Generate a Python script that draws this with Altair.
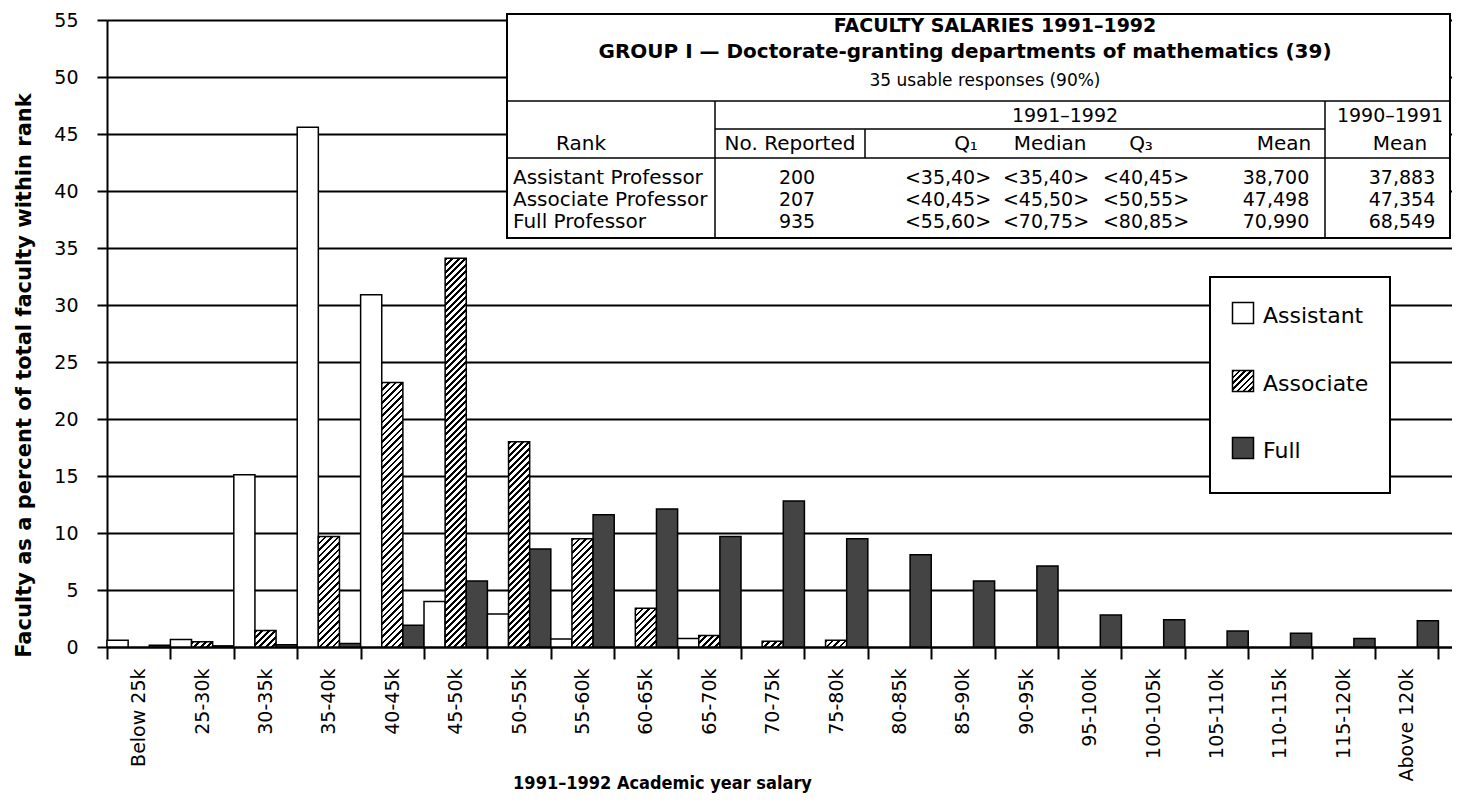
import altair as alt
import pandas as pd

# ---------------- data ----------------
categories = ["Below 25k", "25-30k", "30-35k", "35-40k", "40-45k", "45-50k", "50-55k",
              "55-60k", "60-65k", "65-70k", "70-75k", "75-80k", "80-85k", "85-90k",
              "90-95k", "95-100k", "100-105k", "105-110k", "110-115k", "115-120k", "Above 120k"]
assistant = [0.6, 0.65, 15.1, 45.6, 30.9, 4.0, 2.9, 0.7, 0.0, 0.75, 0.0,
             0.0, 0.0, 0.0, 0.0, 0.0, 0.0, 0.0, 0.0, 0.0, 0.0]
associate = [0.0, 0.45, 1.45, 9.7, 23.2, 34.1, 18.0, 9.5, 3.4, 1.0, 0.5,
             0.6, 0.0, 0.0, 0.0, 0.0, 0.0, 0.0, 0.0, 0.0, 0.0]
full = [0.15, 0.1, 0.2, 0.3, 1.9, 5.8, 8.6, 11.6, 12.1, 9.7, 12.8,
        9.5, 8.1, 5.8, 7.1, 2.8, 2.4, 1.4, 1.2, 0.75, 2.3]
ranks = ["Assistant", "Associate", "Full"]

table_title = "FACULTY SALARIES 1991–1992"
table_group = "GROUP I — Doctorate-granting departments of mathematics (39)"
table_resp = "35 usable responses (90%)"
table_year = "1991–1992"
table_prev_year = "1990–1991"
table_headers = ["Rank", "No. Reported", "Q₁", "Median", "Q₃", "Mean", "Mean"]
row_labels = ["Assistant Professor", "Associate Professor", "Full Professor"]
no_reported = ["200", "207", "935"]
q1_vals = ["<35,40>", "<40,45>", "<55,60>"]
median_vals = ["<35,40>", "<45,50>", "<70,75>"]
q3_vals = ["<40,45>", "<50,55>", "<80,85>"]
mean_vals = ["38,700", "47,498", "70,990"]
prev_mean_vals = ["37,883", "47,354", "68,549"]

# ---------------- layout / style ----------------
FONT = "DejaVu Sans"
NARROW = "DejaVu Sans Condensed, Liberation Sans Narrow, Liberation Sans"
W, H = 1345, 627
OX, OY = 107, 20          # page position of plot origin
FULL_COLOR = "#444444"

rows = []
for i, c in enumerate(categories):
    for r, vals in zip(ranks, [assistant, associate, full]):
        rows.append({"salary": c, "rank": r, "value": vals[i]})
df = pd.DataFrame(rows)


def hatch_stops(n, frac=0.42):
    parts = []
    for k in range(n):
        a = round(k / n, 5)
        b = round((k + frac) / n, 5)
        c = round((k + 1) / n, 5)
        parts += [f"{{offset:{a},color:'#000'}}", f"{{offset:{b},color:'#000'}}",
                  f"{{offset:{b},color:'#fff'}}", f"{{offset:{c},color:'#fff'}}"]
    return "[" + ",".join(parts) + "]"


L = 455
wexp = "bandwidth('xOffset')"
hexp = "abs(scale('y', 0) - scale('y', datum.value))"
dexp = f"({wexp}*{wexp}+{hexp}*{hexp})"
bar_fill = (f"datum.rank === 'Associate' ? {{gradient:'linear', x1:0, y1:0, "
            f"x2:{L}*{wexp}/{dexp}, y2:{L}*{hexp}/{dexp}, stops:{hatch_stops(70)}}} : "
            f"(datum.rank === 'Full' ? '{FULL_COLOR}' : '#ffffff')")

bars = alt.Chart(df).transform_filter("datum.value > 0").mark_bar(
    fill=alt.ExprRef(expr=bar_fill), stroke="black", strokeWidth=1.5
).encode(
    x=alt.X("salary:N", sort=categories,
            scale=alt.Scale(domain=categories, paddingInner=0, paddingOuter=0.107, align=0),
            axis=alt.Axis(title="1991–1992 Academic year salary", labelAngle=270,
                          labelAlign="right", labelBaseline="middle", labelPadding=9,
                          labelFont=FONT, labelFontSize=19, labelColor="black",
                          tickBand="extent", tickSize=12, tickWidth=2, tickColor="black",
                          domainColor="black", domainWidth=2,
                          titleFont=NARROW, titleFontSize=18, titleFontWeight="bold",
                          titleColor="black", titleX=555, titleY=136,
                          titleBaseline="middle", titleAlign="center", zindex=0)),
    xOffset=alt.XOffset("rank:N", sort=ranks,
                        scale=alt.Scale(domain=ranks, paddingInner=0, paddingOuter=0)),
    y=alt.Y("value:Q", stack=None, scale=alt.Scale(domain=[0, 55], nice=False),
            axis=alt.Axis(title="Faculty as a percent of total faculty within rank",
                          values=list(range(0, 56, 5)), grid=True, gridColor="black",
                          gridWidth=2, gridOpacity=1, domainColor="black", domainWidth=2,
                          tickColor="black", tickSize=10, tickWidth=2, labelPadding=19,
                          labelFont=FONT, labelFontSize=19, labelColor="black",
                          titleFont=FONT, titleFontSize=21, titleFontWeight="bold",
                          titleColor="black", titleAngle=270, titleX=-83, titleY=355,
                          titleBaseline="middle", titleAlign="center", zindex=0)),
)

# ---------------- table ----------------
TL, TR, TT, TB = 507, 1450, 14, 238
box_df = pd.DataFrame([{"x": TL - OX, "x2": TR - OX, "y": TT - OY, "y2": TB - OY}])
table_box = alt.Chart(box_df).mark_rect(fill="white", stroke="black", strokeWidth=2).encode(
    x=alt.X("x:Q", scale=None), x2="x2:Q", y=alt.Y("y:Q", scale=None), y2="y2:Q")

segs = [(TL, TR, 101, 101), (715, 1325, 129, 129), (TL, TR, 158, 158),
        (715, 715, 101, TB), (865, 865, 129, 158), (1325, 1325, 101, TB)]
seg_df = pd.DataFrame([{"x": a - OX, "x2": b - OX, "y": c - OY, "y2": d - OY} for a, b, c, d in segs])
table_rules = alt.Chart(seg_df).mark_rule(color="black", strokeWidth=1.5).encode(
    x=alt.X("x:Q", scale=None), x2="x2:Q", y=alt.Y("y:Q", scale=None), y2="y2:Q")

bold_txt = pd.DataFrame([
    {"t": table_title, "px": 995 - OX, "py": 26 - OY, "s": 19},
    {"t": table_group, "px": 965 - OX, "py": 52 - OY, "s": 20},
])
center_txt_rows = [
    {"t": table_resp, "px": 985, "py": 81, "s": 17},
    {"t": table_year, "px": 1065, "py": 116, "s": 19},
    {"t": table_prev_year, "px": 1390, "py": 116, "s": 19},
]
head_x = [581, 790, 966, 1050, 1141, 1284, 1400]
for hx, ht in zip(head_x, table_headers):
    center_txt_rows.append({"t": ht, "px": hx, "py": 144, "s": 20})
row_y = [178, 200, 222]
col_x = [797, 948, 1046, 1146, 1276, 1402]
cols = [no_reported, q1_vals, median_vals, q3_vals, mean_vals, prev_mean_vals]
for j, ry in enumerate(row_y):
    for cx, col in zip(col_x, cols):
        center_txt_rows.append({"t": col[j], "px": cx, "py": ry, "s": 19})
center_txt = pd.DataFrame(center_txt_rows)
center_txt["px"] -= OX
center_txt["py"] -= OY
left_txt = pd.DataFrame([{"t": lab, "px": 513 - OX, "py": ry - OY, "s": 20}
                         for lab, ry in zip(row_labels, row_y)])


def text_layer(d, align, weight):
    return alt.Chart(d).mark_text(align=align, baseline="middle", font=FONT,
                                  fontWeight=weight, color="black").encode(
        x=alt.X("px:Q", scale=None), y=alt.Y("py:Q", scale=None),
        size=alt.Size("s:Q", scale=None, legend=None), text="t:N")


# ---------------- legend ----------------
leg_box_df = pd.DataFrame([{"x": 1210 - OX, "x2": 1390 - OX, "y": 277 - OY, "y2": 493 - OY}])
leg_box = alt.Chart(leg_box_df).mark_rect(fill="white", stroke="black", strokeWidth=2).encode(
    x=alt.X("x:Q", scale=None), x2="x2:Q", y=alt.Y("y:Q", scale=None), y2="y2:Q")

leg_y = [313, 381, 448]
leg_df = pd.DataFrame([{"rank": r, "sx": 1243 - OX, "tx": 1263 - OX, "py": y - OY}
                       for r, y in zip(ranks, leg_y)])
sq_grad = "{gradient:'linear', x1:0, y1:0, x2:1, y2:1, stops:" + hatch_stops(7) + "}"
sq_fill = (f"datum.rank === 'Associate' ? {sq_grad} : "
           f"(datum.rank === 'Full' ? '{FULL_COLOR}' : '#ffffff')")
leg_sq = alt.Chart(leg_df).mark_point(shape="square", size=441, filled=True,
                                      fill=alt.ExprRef(expr=sq_fill), opacity=1,
                                      stroke="black", strokeWidth=1.5).encode(
    x=alt.X("sx:Q", scale=None), y=alt.Y("py:Q", scale=None))
leg_txt = alt.Chart(leg_df).mark_text(align="left", baseline="middle", font=FONT,
                                      fontSize=22, color="black", dy=3).encode(
    x=alt.X("tx:Q", scale=None), y=alt.Y("py:Q", scale=None), text="rank:N")

chart = alt.layer(
    bars, table_box, table_rules,
    text_layer(bold_txt, "center", "bold"),
    text_layer(center_txt, "center", "normal"),
    text_layer(left_txt, "left", "normal"),
    leg_box, leg_sq, leg_txt,
).properties(
    width=W, height=H,
    autosize=alt.AutoSizeParams(type="none"),
    padding={"left": OX - 8, "top": OY - 8, "right": 0, "bottom": 150},
    background="white",
).configure_view(stroke=None)

chart.save("out.html", embed_options={"renderer": "svg", "actions": False})
